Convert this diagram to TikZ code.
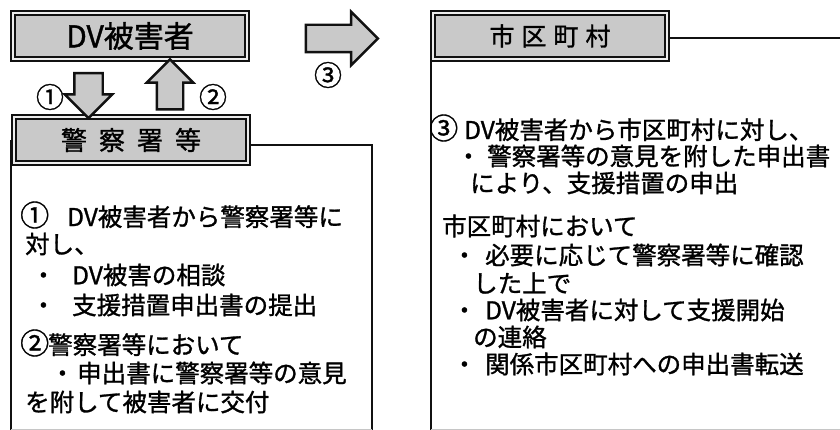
\documentclass[tikz,border=0pt]{standalone}
\usepackage{fontspec}
\setmainfont{Noto Sans CJK JP}[FakeBold=1.2]
\usetikzlibrary{positioning,shapes.arrows}
\definecolor{ink}{HTML}{111111}
\definecolor{tone}{HTML}{C9C9C9}
\definecolor{rim}{HTML}{EDEDED}
\newcommand{\circnum}[1]{\makebox[25pt][c]{\fontsize{29}{29}\selectfont #1}}
\newcommand{\dotmark}{\makebox[24.5pt][c]{・}}
\tikzset{
  header/.style={draw=ink, line width=1.7pt, double=rim, double distance=2.2pt,
                 fill=tone, minimum width=234pt, minimum height=46pt, inner sep=0pt},
  frame/.style={draw=ink, line width=2pt},
  blockarrow/.style={single arrow, draw=ink, fill=tone, line width=2.4pt,
                     inner xsep=0pt, single arrow tip angle=90},
  body/.style={anchor=west, inner sep=0pt, font=\fontsize{24.5}{29}\selectfont},
  num/.style={inner sep=0pt, font=\fontsize{28}{30}\selectfont}
}

\begin{document}
\begin{tikzpicture}[x=1pt,y=-1pt]
  \useasboundingbox (0,0) rectangle (840,430);

  % open frames below the headers
  \draw[frame] (250,145) -- (372,145) -- (372,430);
  \draw[frame] (11,140) -- (11,430);
  \draw[frame] (668,38) -- (842,38);
  \draw[frame] (431,40) -- (431,430);
  \draw[gray!45,line width=0.6pt] (11,429) -- (372,429);
  \draw[gray!45,line width=0.6pt] (431,429) -- (840,429);

  % headers
  \node[header] (hVictim) at (130,36)
    {\fontsize{30}{30}\selectfont DV被害者};
  \node[header] (hPolice) at (131,140)
    {\fontsize{26}{30}\selectfont 警\hspace{12pt}察\hspace{12pt}署\hspace{12pt}等};
  \node[header] (hCity) at (550,36)
    {\fontsize{25}{30}\selectfont 市\hspace{7pt}区\hspace{7pt}町\hspace{7pt}村};

  % block arrows
  \node[blockarrow, rotate=-90, minimum height=45pt, minimum width=45pt,
        inner ysep=13pt, single arrow head extend=9.5pt] (arrOne) at (88.5,88.5) {};
  \node[blockarrow, rotate=90, minimum height=50pt, minimum width=44pt,
        inner ysep=12pt, single arrow head extend=10pt] (arrTwo) at (170,91) {};
  \node[blockarrow, minimum height=72pt, minimum width=51pt,
        inner ysep=12.5pt, single arrow head extend=13pt] (arrThree) at (335,38.5) {};

  \node[num] (labOne) at (50,97) {①};
  \node[num] (labTwo) at (213,97) {②};
  \node[num] (labThree) at (328,75) {③};

  % police text
  \node[body] (pA) at (22,215) {\circnum{①}\hspace{20pt}DV被害者から警察署等に};
  \node[body] (pB) at (25,244) {対し、};
  \node[body] (pC) at (31,275) {\dotmark\hspace{16.5pt}DV被害の相談};
  \node[body] (pD) at (31,305) {\dotmark\hspace{16.5pt}支援措置申出書の提出};
  \node[body] (pE) at (22,343) {\circnum{②}\hspace{1pt}警察署等において};
  \node[body] (pF) at (50,373) {\dotmark\hspace{2.5pt}申出書に警察署等の意見};
  \node[body] (pG) at (25,402) {を附して被害者に交付};

  % city text
  \node[body] (cA) at (431,128) {\circnum{③}\hspace{8pt}DV被害者から市区町村に対し、};
  \node[body] (cB) at (456,156) {\dotmark\hspace{6.5pt}警察署等の意見を附した申出書};
  \node[body] (cC) at (470,183) {により、支援措置の申出};
  \node[body] (cD) at (442,226) {市区町村において};
  \node[body] (cE) at (452,255) {\dotmark\hspace{8.5pt}必要に応じて警察署等に確認};
  \node[body] (cF) at (473,283) {した上で};
  \node[body] (cG) at (452,310) {\dotmark\hspace{8.5pt}DV被害者に対して支援開始};
  \node[body] (cH) at (473,337) {の連絡};
  \node[body] (cI) at (452,364) {\dotmark\hspace{8.5pt}関係市区町村への申出書転送};
\end{tikzpicture}
\end{document}
